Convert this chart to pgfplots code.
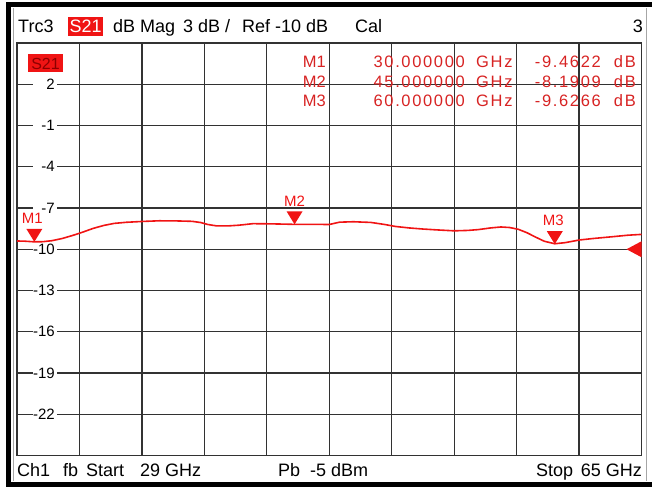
\documentclass[border=0pt]{standalone}
\usepackage{fontspec}
\setmainfont{Liberation Sans}
\newfontfamily\tabfont[LetterSpace=10]{Liberation Sans}
\usepackage{pgfplots}
\pgfplotsset{compat=1.18}

\definecolor{trc}{RGB}{240,20,20}
\definecolor{mkr}{RGB}{215,35,35}
\definecolor{gridc}{RGB}{50,50,50}
\newcommand\hfont{\fontsize{18}{20}\selectfont}
\newcommand\sfont{\fontsize{15}{17}\selectfont}
\newcommand\tfont{\fontsize{16.5}{18}\selectfont}
\newcommand\yl[1]{\makebox[20pt][r]{#1}}

% marker triangles, tip at the data point
\pgfdeclareplotmark{mkdown}{%
  \pgfpathmoveto{\pgfpoint{0pt}{0pt}}%
  \pgfpathlineto{\pgfpoint{-8pt}{13pt}}%
  \pgfpathlineto{\pgfpoint{8pt}{13pt}}%
  \pgfpathclose\pgfusepathqfill}
\pgfdeclareplotmark{mkleft}{%
  \pgfpathmoveto{\pgfpoint{-15pt}{0pt}}%
  \pgfpathlineto{\pgfpoint{0pt}{8pt}}%
  \pgfpathlineto{\pgfpoint{0pt}{-8pt}}%
  \pgfpathclose\pgfusepathqfill}

\begin{document}
\begin{tikzpicture}
\begin{scope}[x=1pt,y=-1pt,shift={(-17pt,455.5pt)}]
\useasboundingbox (0,0) rectangle (652,487);
\end{scope}

\begin{axis}[
  at={(0,0)}, anchor=south west, scale only axis,
  width=624.5pt, height=412.5pt,
  xmin=29, xmax=65, ymin=-25, ymax=5,
  xtick={32.6,36.2,39.8,43.4,47,50.6,54.2,57.8,61.4}, xticklabels={},
  ytick={-22,-19,-16,-13,-10,-7,-4,-1,2},
  yticklabels={\yl{-22},\yl{-19},\yl{-16},\yl{-13},\yl{-10},\yl{-7},\yl{-4},\yl{-1},\yl{2}},
  major tick length=0pt,
  grid=major,
  grid style={line width=1.2pt, gridc},
  axis line style={line width=1.4pt, gridc},
  yticklabel style={anchor=east, xshift=40pt, fill=white,
    inner xsep=2pt, inner ysep=0.5pt, font=\sfont},
  clip=false,
]
% S21 trace, dB vs GHz
\addplot[trc, line width=1.6pt] coordinates {
 (29.0,-9.40) (29.4,-9.41) (30.0,-9.46) (30.5,-9.45) (31.0,-9.38)
 (31.6,-9.22) (32.2,-9.00) (32.8,-8.75) (33.4,-8.48) (34.0,-8.27)
 (34.6,-8.12) (35.3,-8.04) (36.2,-7.98) (37.2,-7.93) (38.2,-7.94)
 (39.1,-7.97) (39.6,-8.06) (40.0,-8.20) (40.5,-8.30) (41.2,-8.30)
 (41.8,-8.25) (42.6,-8.14) (43.5,-8.15) (44.3,-8.17) (45.0,-8.19)
 (46.0,-8.19) (47.0,-8.20) (47.6,-8.03) (48.4,-8.00) (49.4,-8.05)
 (50.2,-8.20) (50.8,-8.34) (51.6,-8.45) (52.4,-8.53) (53.3,-8.60)
 (54.2,-8.66) (55.0,-8.63) (55.6,-8.57) (56.3,-8.45) (56.9,-8.38)
 (57.4,-8.42) (57.9,-8.55) (58.4,-8.80) (58.9,-9.12) (59.4,-9.42)
 (60.0,-9.60) (60.6,-9.52) (61.4,-9.33) (62.2,-9.22) (63.4,-9.08)
 (64.2,-8.98) (65.0,-8.92)
};
% markers
\addplot[only marks, mark=mkdown, trc] coordinates {(30,-9.4622) (45,-8.1909) (60,-9.6266)};
% reference level
\addplot[only marks, mark=mkleft, trc] coordinates {(65,-10)};
\node[anchor=south, inner sep=0pt, text=trc, font=\sfont] at ([xshift=-2pt,yshift=18pt]axis cs:30,-9.4622) {M1};
\node[anchor=south, inner sep=0pt, text=trc, font=\sfont] at ([yshift=18pt]axis cs:45,-8.1909) {M2};
\node[anchor=south, inner sep=0pt, text=trc, font=\sfont] at ([xshift=-1.5pt,yshift=18pt]axis cs:60,-9.6266) {M3};
\end{axis}

\begin{scope}[x=1pt,y=-1pt,shift={(-17pt,455.5pt)}]
% screen frame
\fill[black] (6.5,2.5) rectangle (652,7);
\fill[black] (6.5,2.5) rectangle (11,487);
\fill[black] (6.5,481.5) rectangle (652,486.5);
\draw[gray!70, line width=0.6pt] (13,481) -- (13,8);
\draw[gray!70, line width=0.6pt] (646.5,8) -- (646.5,481);
% header
\node[anchor=base west, inner sep=0pt, font=\hfont] at (18,33) {Trc3};
\node[anchor=base west, inner xsep=1.5pt, inner ysep=3pt, fill=trc, text=white, font=\hfont] at (68,33) {S21};
\node[anchor=base west, inner sep=0pt, font=\hfont] at (113,33) {dB Mag};
\node[anchor=base west, inner sep=0pt, font=\hfont] at (183,33) {3 dB /};
\node[anchor=base west, inner sep=0pt, font=\hfont] at (242,33) {Ref -10 dB};
\node[anchor=base west, inner sep=0pt, font=\hfont] at (355,33) {Cal};
\node[anchor=base east, inner sep=0pt, font=\hfont] at (643,33) {3};
% footer
\node[anchor=base west, inner sep=0pt, font=\hfont] at (17,476) {Ch1};
\node[anchor=base west, inner sep=0pt, font=\hfont] at (63,476) {fb};
\node[anchor=base west, inner sep=0pt, font=\hfont] at (86,476) {Start};
\node[anchor=base west, inner sep=0pt, font=\hfont] at (140,476) {29 GHz};
\node[anchor=base west, inner sep=0pt, font=\hfont] at (278,476) {Pb};
\node[anchor=base west, inner sep=0pt, font=\hfont] at (310,476) {-5 dBm};
\node[anchor=base west, inner sep=0pt, font=\hfont] at (536,476) {Stop};
\node[anchor=base east, inner sep=0pt, font=\hfont] at (642,476) {65 GHz};
% trace label
\node[minimum width=35pt, minimum height=18pt, inner sep=0pt, fill=trc, text={rgb,255:red,140;green,0;blue,0}, font=\fontsize{16}{18}\selectfont] at (45.5,63.5) {S21};
% marker table
\foreach \m/\f/\v/\b in {M1/30.000000/-9.4622/68, M2/45.000000/-8.1909/87.5, M3/60.000000/-9.6266/107} {
  \node[anchor=base east, inner sep=0pt, text=mkr, font=\tfont] at (326,\b) {\m};
  \node[anchor=base east, inner sep=0pt, text=mkr, font=\tfont\tabfont] at (465,\b) {\f};
  \node[anchor=base west, inner sep=0pt, text=mkr, font=\tfont\tabfont] at (476,\b) {GHz};
  \node[anchor=base east, inner sep=0pt, text=mkr, font=\tfont\tabfont] at (601,\b) {\v};
  \node[anchor=base east, inner sep=0pt, text=mkr, font=\tfont\tabfont] at (636,\b) {dB};
}
\end{scope}
\end{tikzpicture}
\end{document}
